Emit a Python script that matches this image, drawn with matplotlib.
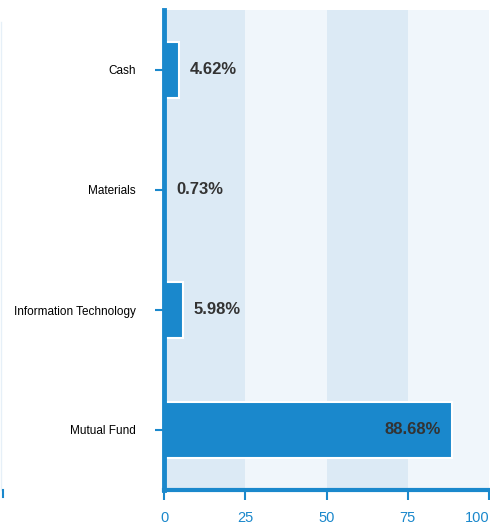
import matplotlib.pyplot as plt
from matplotlib.lines import Line2D

categories = ['Cash', 'Materials', 'Information Technology', 'Mutual Fund']
weights = [4.62, 0.73, 5.98, 88.68]
x_ticks = [0, 25, 50, 75, 100]

blue = '#1a88cc'
band_dark = '#dceaf5'
band_light = '#f0f6fb'

plt.rcParams['font.family'] = ['Liberation Sans', 'DejaVu Sans']

fig = plt.figure(figsize=(4.9, 5.27), dpi=100)
ax = fig.add_axes([164 / 490, 37 / 527, 325 / 490, 480 / 527])

# alternating background bands
for i in range(len(x_ticks) - 1):
    ax.axvspan(x_ticks[i], x_ticks[i + 1], color=band_dark if i % 2 == 0 else band_light,
               zorder=0, lw=0)

ypos = list(range(len(categories)))
ax.barh(ypos, weights, height=0.47, color=blue, edgecolor='white', linewidth=1.5, zorder=2)

for y, w in zip(ypos, weights):
    label = f'{w:.2f}%'
    if w > 50:
        ax.annotate(label, (w, y), xytext=(-8, 0), textcoords='offset points',
                    ha='right', va='center', fontsize=12, fontweight='bold', color='#333333', zorder=3)
    else:
        ax.annotate(label, (w, y), xytext=(7.5, 0), textcoords='offset points',
                    ha='left', va='center', fontsize=12, fontweight='bold', color='#333333', zorder=3)

ax.set_xlim(0, 100)
ax.set_ylim(len(categories) - 0.5, -0.5)
ax.set_xticks(x_ticks)
ax.set_yticks(ypos)
ax.set_yticklabels(categories)

for s in ['top', 'right']:
    ax.spines[s].set_visible(False)
ax.spines['left'].set_color(blue)
ax.spines['left'].set_linewidth(3.5)
ax.spines['bottom'].set_color(blue)
ax.spines['bottom'].set_linewidth(3)
ax.spines['left'].set_zorder(4)

ax.tick_params(axis='x', colors=blue, labelsize=10.5, length=7, width=1.5, pad=8)
ax.tick_params(axis='y', color=blue, labelcolor='black', labelsize=8.5, length=6.5, width=1.5, pad=14)
# last x label kept inside the figure
ax.get_xticklabels()[-1].set_horizontalalignment('right')
ax.get_xticklabels()[-1].set_x(100)

# stray marks at the far left edge
fig.add_artist(Line2D([1 / 490, 1 / 490], [37 / 527, 505 / 527], color='#e6f0f8', lw=1))
fig.add_artist(Line2D([2.5 / 490, 2.5 / 490], [30 / 527, 37 / 527], color=blue, lw=1.5))

fig.savefig('out.png', dpi=100)
